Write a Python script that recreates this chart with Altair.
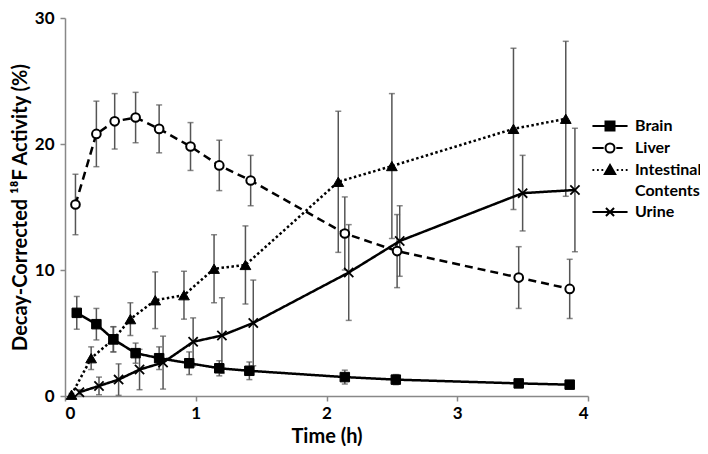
import altair as alt
import pandas as pd

series_names = ["Brain", "Liver", "Intestinal Contents", "Urine"]

brain_t = [0.09, 0.24, 0.37, 0.54, 0.72, 0.95, 1.18, 1.41, 2.14, 2.53, 3.47, 3.86]
brain_v = [6.6, 5.7, 4.5, 3.4, 3.0, 2.6, 2.2, 2.0, 1.5, 1.3, 1.0, 0.9]
brain_e = [1.3, 1.25, 1.0, 0.8, 0.9, 0.9, 0.6, 0.7, 0.55, 0.4, 0.2, 0.2]

liver_t = [0.08, 0.24, 0.38, 0.54, 0.72, 0.96, 1.18, 1.42, 2.14, 2.54, 3.47, 3.86]
liver_v = [15.2, 20.8, 21.8, 22.1, 21.2, 19.8, 18.3, 17.1, 12.9, 11.5, 9.4, 8.5]
liver_e = [2.4, 2.6, 2.2, 2.0, 1.9, 1.9, 2.0, 2.0, 2.9, 2.9, 2.45, 2.35]

int_t = [0.05, 0.20, 0.37, 0.50, 0.69, 0.91, 1.14, 1.38, 2.09, 2.50, 3.43, 3.83]
int_v = [0.1, 3.0, 4.5, 6.1, 7.6, 8.0, 10.1, 10.4, 17.0, 18.25, 21.2, 22.0]
int_e = [0.1, 0.9, 1.0, 1.3, 2.25, 1.9, 2.7, 3.1, 5.6, 5.75, 6.4, 6.15]

urine_t = [0.11, 0.26, 0.41, 0.57, 0.75, 0.98, 1.20, 1.44, 2.17, 2.56, 3.50, 3.90]
urine_v = [0.3, 0.8, 1.3, 2.1, 2.65, 4.3, 4.8, 5.8, 9.8, 12.3, 16.1, 16.35]
urine_e = [0.2, 0.7, 1.25, 1.6, 2.1, 1.9, 3.0, 3.4, 3.8, 2.8, 3.0, 4.9]

x_ticks = [0, 1, 2, 3, 4]
y_ticks = [0, 10, 20, 30]

legend_names = ["Brain", "Liver", "Intestinal", "Contents", "Urine"]

rows = []
for name, ts, vs, es in [
    ("Brain", brain_t, brain_v, brain_e),
    ("Liver", liver_t, liver_v, liver_e),
    ("Intestinal Contents", int_t, int_v, int_e),
    ("Urine", urine_t, urine_v, urine_e),
]:
    for t, v, e in zip(ts, vs, es):
        rows.append({"series": name, "t": t, "v": v, "lo": max(v - e, 0), "hi": v + e})
df = pd.DataFrame(rows)

FONT = "Lato"

x_enc = alt.X("t:Q", scale=alt.Scale(domain=[0, 4], nice=False),
              axis=alt.Axis(values=x_ticks, title="Time (h)", grid=False, format="d"))
y_enc = alt.Y("v:Q", scale=alt.Scale(domain=[0, 30], nice=False),
              axis=alt.Axis(values=y_ticks, title="Decay-Corrected \u00b9\u2078F Activity (%)", grid=False))

base = alt.Chart(df)

err_rule = base.mark_rule(color="#555555", strokeWidth=1.5).encode(
    x="t:Q", y="lo:Q", y2="hi:Q")
cap_hi = base.mark_tick(color="#555555", thickness=1.5, size=6, orient="horizontal").encode(
    x="t:Q", y="hi:Q")
cap_lo = base.mark_tick(color="#555555", thickness=1.5, size=6, orient="horizontal").encode(
    x="t:Q", y="lo:Q")

lines = base.mark_line(color="black", strokeWidth=2.5).encode(
    x=x_enc, y=y_enc, detail="series:N", order="t:Q",
    strokeDash=alt.StrokeDash("series:N",
                              scale=alt.Scale(domain=series_names,
                                              range=[[1, 0], [8, 5], [2.5, 2.5], [1, 0]]),
                              legend=None))

def pts(name, **kw):
    return base.transform_filter(alt.datum.series == name).mark_point(opacity=1, **kw).encode(
        x="t:Q", y="v:Q")

p_brain = pts("Brain", shape="square", filled=True, fill="black", stroke="black", strokeWidth=1, size=90)
p_liver = pts("Liver", shape="circle", filled=True, fill="white", stroke="black", strokeWidth=2, size=75)
p_int = pts("Intestinal Contents", shape="triangle-up", filled=True, fill="black", stroke="black", strokeWidth=1, size=115)
p_urine = pts("Urine", shape="M-1,-1L1,1M-1,1L1,-1", filled=False, stroke="black", strokeWidth=1.8, size=85)

legend_paths = [
    "M-3.9,0L3.9,0M-1,-1L1,-1L1,1L-1,1Z",
    "M-3.9,0L-1.4,0M1.4,0L2.8,0M-1,0A1,1,0,1,1,1,0A1,1,0,1,1,-1,0Z",
    "M-3.9,0L-3.5,0M-2.9,0L-2.5,0M-1.9,0L-1.5,0M1.5,0L1.9,0M2.5,0L2.9,0M3.5,0L3.9,0M0,-1.1L1.15,0.9L-1.15,0.9Z",
    "M0,0",
    "M-3.9,0L3.9,0M-0.9,-0.9L0.9,0.9M-0.9,0.9L0.9,-0.9",
]
legend_fills = ["black", "white", "black", "transparent", "transparent"]
legend_strokes = ["black", "black", "black", "black", "black"]

leg = alt.Legend(title=None, orient="none", legendX=537, legendY=100,
                 labelFont=FONT, labelFontSize=16, labelFontWeight="bold", labelColor="black",
                 symbolSize=81, symbolStrokeWidth=2, symbolStrokeColor="black",
                 labelOffset=17, rowPadding=4, padding=0)

legend_layer = alt.Chart(pd.DataFrame({"name": legend_names})).transform_filter("false").mark_point(
    filled=True, strokeWidth=2, opacity=1, size=81).encode(
    shape=alt.Shape("name:N", scale=alt.Scale(domain=legend_names, range=legend_paths), legend=leg),
    fill=alt.Fill("name:N", scale=alt.Scale(domain=legend_names, range=legend_fills), legend=leg),
    stroke=alt.Stroke("name:N", scale=alt.Scale(domain=legend_names, range=legend_strokes), legend=leg),
)

chart = alt.layer(err_rule, cap_hi, cap_lo, lines, p_brain, p_liver, p_int, p_urine, legend_layer).resolve_scale(
    shape="independent", fill="independent", stroke="independent", strokeDash="independent"
).properties(
    width=523, height=378,
    autosize=alt.AutoSizeParams(type="none"),
    padding={"left": 57, "top": 10, "right": 112, "bottom": 50},
).configure_view(stroke=None).configure_axis(
    domainColor="#888888", tickColor="#888888", domainWidth=1.5, tickWidth=1.5, tickSize=5,
    labelFont=FONT, labelFontSize=17, labelFontWeight="bold", labelColor="black",
    titleFont=FONT, titleFontSize=20, titleFontWeight="bold", titleColor="black",
).configure_axisX(labelPadding=4, titlePadding=5).configure_axisY(labelPadding=6, titlePadding=4)

chart.save("out.html", embed_options={"renderer": "svg", "actions": False})
